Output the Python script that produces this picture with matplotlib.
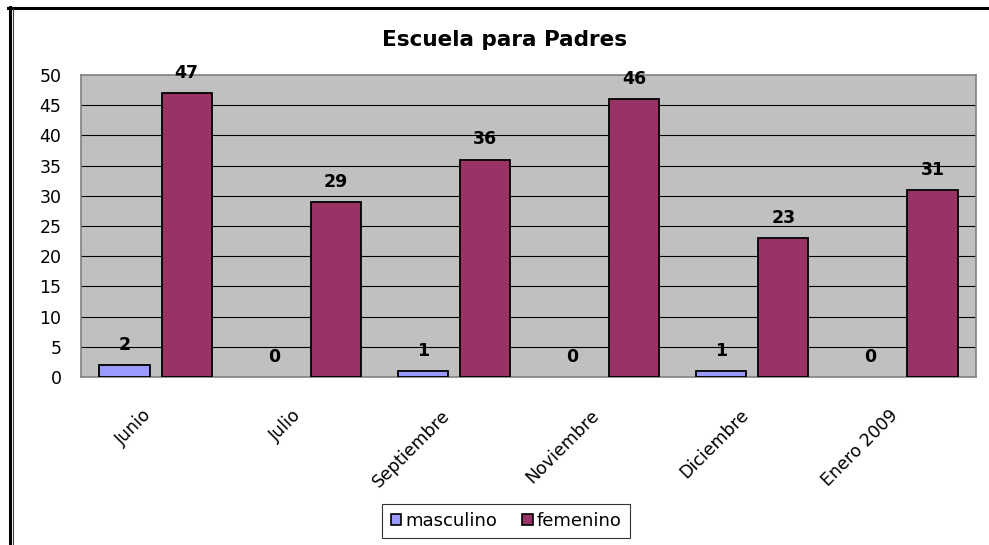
import matplotlib
matplotlib.use("Agg")
import matplotlib.pyplot as plt
from matplotlib.lines import Line2D
from matplotlib.patches import Patch
import numpy as np

categories = ["Junio", "Julio", "Septiembre", "Noviembre", "Diciembre", "Enero 2009"]
masculino = [2, 0, 1, 0, 1, 0]
femenino = [47, 29, 36, 46, 23, 31]
series_names = ["masculino", "femenino"]
yticks = [0, 5, 10, 15, 20, 25, 30, 35, 40, 45, 50]

plt.rcParams['font.family'] = ['DejaVu Sans']

W, H = 989, 545
fig = plt.figure(figsize=(W / 100, H / 100), dpi=100)
fig.patch.set_facecolor('white')

ax = fig.add_axes([81 / W, 1 - 377 / H, (976 - 81) / W, (377 - 75) / H])
ax.set_facecolor('#C0C0C0')

x = np.arange(len(categories)) + 0.5
bw = 0.336
off = 0.208
c_m = '#9999FF'
c_f = '#993366'

b1 = ax.bar(x - off, masculino, bw, color=c_m, edgecolor='black', linewidth=1.3, zorder=3)
b2 = ax.bar(x + off, femenino, bw, color=c_f, edgecolor='black', linewidth=1.3, zorder=3)

for bars, vals in ((b1, masculino), (b2, femenino)):
    for rect, v in zip(bars, vals):
        if v == 0:
            rect.set_linewidth(0)
        ax.annotate(str(v), (rect.get_x() + rect.get_width() / 2, v),
                    xytext=(0, 8), textcoords='offset points',
                    ha='center', va='bottom', fontsize=12.5, fontweight='bold')

ax.set_xlim(0, len(categories))
ax.set_ylim(0, 50)
ax.set_yticks(yticks)
ax.set_yticklabels([str(t) for t in yticks], fontsize=12.5)
ax.tick_params(axis='y', length=0, pad=14)
ax.set_xticks(x)
ax.set_xticklabels(categories, fontsize=12.5, rotation=45, ha='right', va='top')
ax.tick_params(axis='x', length=0, pad=21)

for t in yticks[1:-1]:
    ax.axhline(t, color='black', linewidth=0.8, zorder=1)

for s in ax.spines.values():
    s.set_color('#808080')
    s.set_linewidth(1.2)

fig.text(505 / W, 1 - 40 / H, "Escuela para Padres", ha='center', va='center',
         fontsize=15.5, fontweight='bold')

handles = [Patch(facecolor=c_m, edgecolor='black', linewidth=1.2),
           Patch(facecolor=c_f, edgecolor='black', linewidth=1.2)]
leg = fig.legend(handles, series_names, loc='center', bbox_to_anchor=(506 / W, 1 - 521 / H),
                 ncol=2, fontsize=13, frameon=True, fancybox=False, handlelength=0.6,
                 handleheight=0.6, handletextpad=0.2, columnspacing=1.4, borderpad=0.45,
                 borderaxespad=0)
leg.get_frame().set_edgecolor('black')
leg.get_frame().set_linewidth(0.8)

# figure border (top and left)
fig.add_artist(Line2D([8 / W, 1], [1 - 7.5 / H] * 2, transform=fig.transFigure,
                      color='black', linewidth=2.2))
fig.add_artist(Line2D([9.5 / W] * 2, [0, 1 - 7 / H], transform=fig.transFigure,
                      color='black', linewidth=2.2))
fig.add_artist(Line2D([12.8 / W] * 2, [0, 1 - 9 / H], transform=fig.transFigure,
                      color='#404040', linewidth=0.8))

fig.savefig("out.png", dpi=100)
